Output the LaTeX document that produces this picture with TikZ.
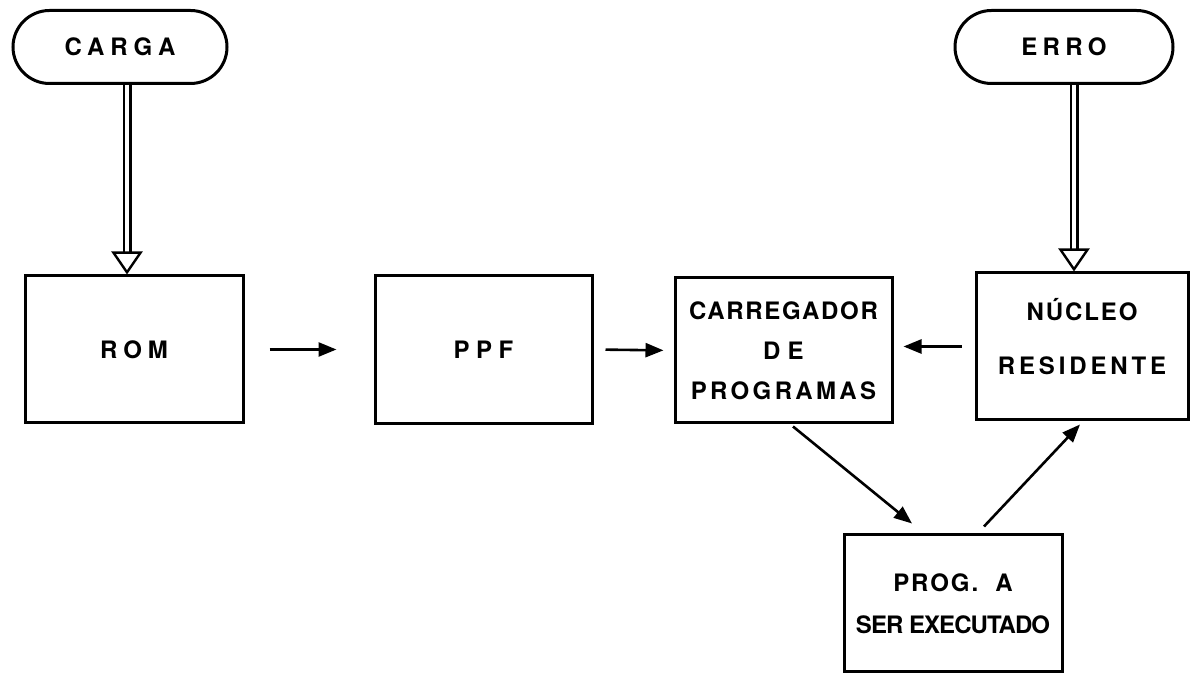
\documentclass[tikz,border=0pt]{standalone}
\usepackage{fontspec}
\setmainfont{TeX Gyre Heros}
\usetikzlibrary{arrows.meta,shapes.misc,calc}

\begin{document}
\begin{tikzpicture}[x=0.5pt,y=0.5pt,yscale=-1,xscale=1,
  caixa/.style={draw,line width=1.5pt,rectangle,inner sep=0pt,align=center,font=\bfseries\fontsize{12}{20}\selectfont},
  terminal/.style={draw,line width=1.5pt,rounded rectangle,inner sep=0pt,minimum height=36.5pt,font=\bfseries\fontsize{12}{14}\selectfont},
  seta/.style={line width=1.3pt,-{Triangle[length=9pt,width=7pt]}},
  setadupla/.style={line width=1.2pt,double,double distance=2.1pt,-{Triangle[open,length=11.5pt,width=15.5pt]}}]
\useasboundingbox (0,0) rectangle (1196,678);

%Shape: Terminal
\node [terminal,minimum width=107pt] (carga) at (120,47) {\addfontfeature{LetterSpace=25}CARGA};
\node [terminal,minimum width=109pt] (erro) at (1064,47) {\addfontfeature{LetterSpace=22}ERRO};

%Shape: Rectangle
\node [caixa,minimum width=109pt,minimum height=73.5pt] (rom) at (134,349.5) {\addfontfeature{LetterSpace=25}ROM};
\node [caixa,minimum width=108.5pt,minimum height=74pt] (ppf) at (483.5,349.5) {\addfontfeature{LetterSpace=27}PPF};
\node [caixa,minimum width=108.5pt,minimum height=72.5pt] (carregador) at (783.5,350.5) {\addfontfeature{LetterSpace=7}CARREGADOR\\\addfontfeature{LetterSpace=30}DE\\\addfontfeature{LetterSpace=14}PROGRAMAS};
\node [caixa,minimum width=106pt,minimum height=73.5pt,font=\bfseries\fontsize{12}{27}\selectfont] (nucleo) at (1082,346.5) {\addfontfeature{LetterSpace=8}NÚCLEO\\\addfontfeature{LetterSpace=16}RESIDENTE\\[-17pt]\mbox{}};
\node [caixa,minimum width=109pt,minimum height=68.5pt,font=\bfseries\fontsize{12}{21}\selectfont] (prog) at (953,603.5) {\addfontfeature{LetterSpace=8}PROG.\ \ A\\\addfontfeature{LetterSpace=-4}SER EXECUTADO};

%Straight Lines
\draw [setadupla] ($(carga.south)+(7,0)$) -- ($(rom.north)+(-7,0)$);
\draw [setadupla] ($(erro.south)+(10,0)$) -- ($(nucleo.north)+(-8,0)$);
\draw [seta,shorten <=12.5pt,shorten >=18.5pt] (rom.east) -- (ppf.west);
\draw [seta,shorten <=6pt,shorten >=5pt] (ppf.east) -- (carregador.west);
\draw [seta,shorten <=6.5pt,shorten >=5pt] (nucleo.west) -- (nucleo.west -| carregador.east);
\draw [seta] ($(carregador.south)+(9.5,2)$) -- ($(prog.north)+(-41,-10)$);
\draw [seta] ($(prog.north)+(31,-7)$) -- ($(nucleo.south)+(-2,3)$);

\end{tikzpicture}
\end{document}
